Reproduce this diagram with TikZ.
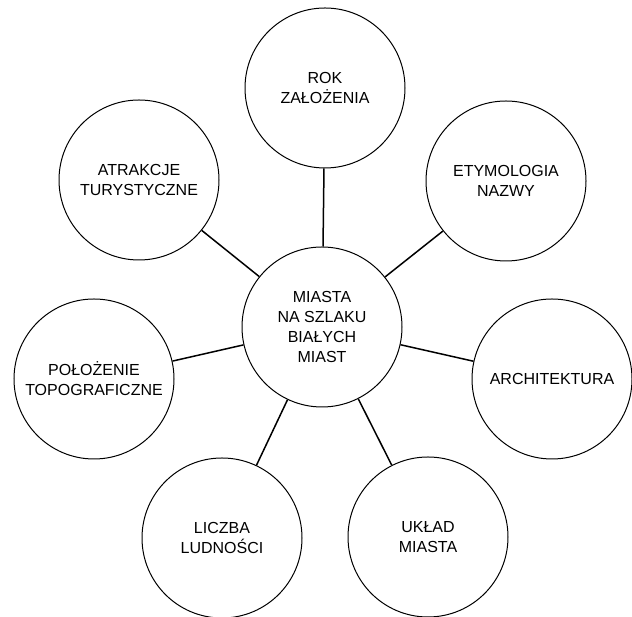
\documentclass[tikz,border=0pt]{standalone}
\usepackage{fontspec}
\setmainfont{Liberation Sans}
\usetikzlibrary{positioning}
\tikzset{
    every node/.style={
        font=\fontsize{16}{20}\selectfont
    },
    topic/.style={
        shape=circle,
        draw,
        line width=1pt,
        minimum size=160pt,
        inner sep=0pt,
        align=center
    },
    link/.style={
        line width=1.5pt
    }
}

\begin{document}
\begin{tikzpicture}[x=1pt,y=1pt]
		\useasboundingbox (0,0) rectangle (632,617);
		\node (miasta) at (322,290) [topic] {MIASTA\\NA SZLAKU\\BIAŁYCH\\MIAST};
		\node (rok) at (325,529) [topic] {ROK\\ZAŁOŻENIA};
		\node (etym) at (506,436) [topic] {ETYMOLOGIA\\NAZWY};
		\node (arch) at (552,238) [topic] {ARCHITEKTURA};
		\node (uklad) at (428,80) [topic] {UKŁAD\\MIASTA};
		\node (liczba) at (222,79) [topic] {LICZBA\\LUDNOŚCI};
		\node (polozenie) at (94,238) [topic] {POŁOŻENIE\\TOPOGRAFICZNE};
		\node (atrakcje) at (139,437) [topic] {ATRAKCJE\\TURYSTYCZNE};
		% Connectors
		\draw [link] (miasta) -- (rok);
		\draw [link] (miasta) -- (etym);
		\draw [link] (miasta) -- (arch);
		\draw [link] (miasta) -- (uklad);
		\draw [link] (miasta) -- (liczba);
		\draw [link] (miasta) -- (polozenie);
		\draw [link] (miasta) -- (atrakcje);
	\end{tikzpicture}
\end{document}
